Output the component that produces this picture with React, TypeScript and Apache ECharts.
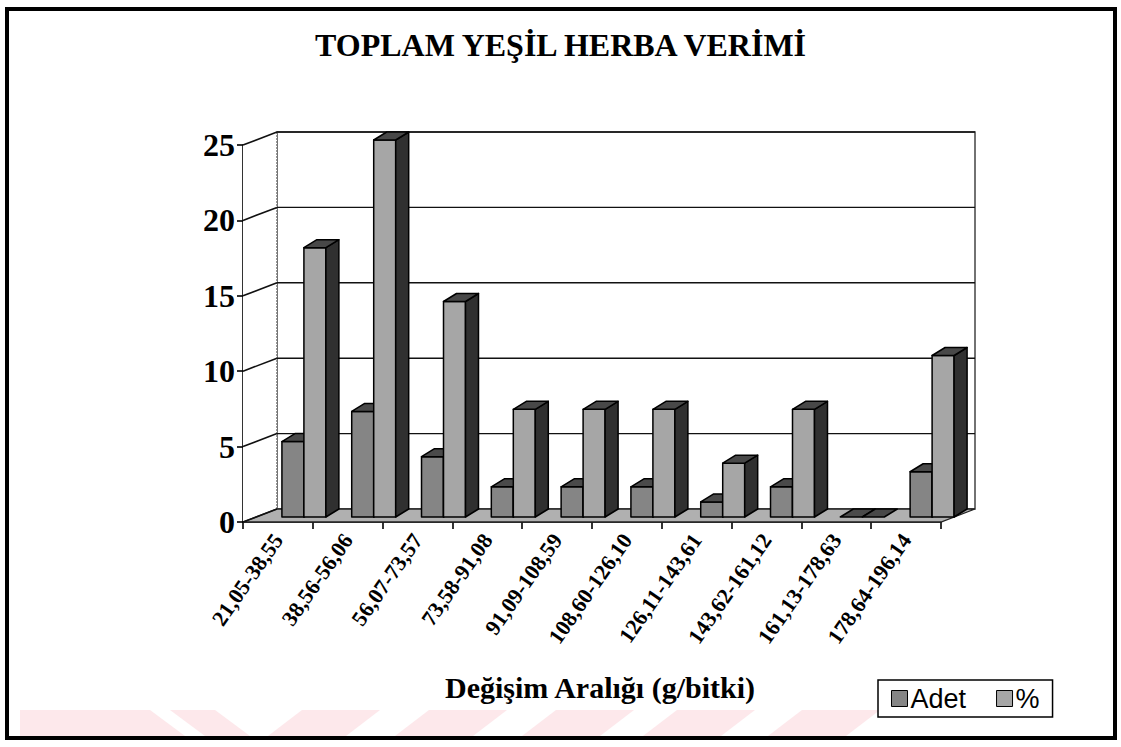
import React, { useEffect, useRef } from "react";
import * as echarts from "echarts";

const categories = [
  "21,05-38,55",
  "38,56-56,06",
  "56,07-73,57",
  "73,58-91,08",
  "91,09-108,59",
  "108,60-126,10",
  "126,11-143,61",
  "143,62-161,12",
  "161,13-178,63",
  "178,64-196,14",
];
const adet = [5, 7, 4, 2, 2, 2, 1, 2, 0, 3];
const yuzde = [17.86, 25, 14.29, 7.14, 7.14, 7.14, 3.57, 7.14, 0, 10.71];
const yTicks = [0, 5, 10, 15, 20, 25];
const seriesNames = ["Adet", "%"];

const SERIF = "'Liberation Serif', 'Times New Roman', serif";
const SANS = "'Liberation Sans', Arial, sans-serif";

// back-wall depth offset and bar geometry (pixels)
const BACK = [34, -13];
const BAR_SHIFT = [14, -5];
const DEPTH = [13, -8];

function makeBarRender(seriesIndex: number, front: string, side: string, topC: string) {
  return (params: any, api: any) => {
    const i = api.value(0);
    const v = api.value(1);
    const base = api.coord([i, 0]);
    const top = api.coord([i, v]);
    const bw = api.size([1, 0])[0];
    const w = bw * 0.315;
    const x0 = base[0] - bw * 0.143 + BAR_SHIFT[0] + seriesIndex * w;
    const yb = base[1] + BAR_SHIFT[1];
    const yt = top[1] + BAR_SHIFT[1];
    const stroke = { stroke: "#000", lineWidth: 1.5, lineJoin: "round" };
    const children: any[] = [];
    if (yb - yt > 0.5) {
      children.push({
        type: "rect",
        shape: { x: x0, y: yt, width: w, height: yb - yt },
        style: { fill: front, ...stroke },
      });
      children.push({
        type: "polygon",
        shape: {
          points: [
            [x0 + w, yt],
            [x0 + w + DEPTH[0], yt + DEPTH[1]],
            [x0 + w + DEPTH[0], yb + DEPTH[1]],
            [x0 + w, yb],
          ],
        },
        style: { fill: side, ...stroke },
      });
    }
    children.push({
      type: "polygon",
      shape: {
        points: [
          [x0, yt],
          [x0 + DEPTH[0], yt + DEPTH[1]],
          [x0 + w + DEPTH[0], yt + DEPTH[1]],
          [x0 + w, yt],
        ],
      },
      style: { fill: topC, ...stroke },
    });
    return { type: "group", children };
  };
}

function wallsRender(params: any, api: any) {
  const bw = api.size([1, 0])[0];
  const n = categories.length;
  const xl = api.coord([0, 0])[0] - bw / 2;
  const xr = api.coord([n - 1, 0])[0] + bw / 2;
  const y0 = api.coord([0, 0])[1];
  const yTop = api.coord([0, yTicks[yTicks.length - 1]])[1];
  const bx = BACK[0];
  const by = BACK[1];
  const children: any[] = [];
  // back wall
  children.push({
    type: "rect",
    shape: { x: xl + bx, y: yTop + by, width: xr - xl, height: y0 - yTop },
    style: { fill: "#fff", stroke: "#444", lineWidth: 1.5 },
  });
  // left wall
  children.push({
    type: "polygon",
    shape: {
      points: [
        [xl, yTop],
        [xl + bx, yTop + by],
        [xl + bx, y0 + by],
        [xl, y0],
      ],
    },
    style: { fill: "#fff", stroke: "none" },
  });
  // dotted left edge of back wall
  children.push({
    type: "line",
    shape: { x1: xl + bx, y1: yTop + by, x2: xl + bx, y2: y0 + by },
    style: { stroke: "#777", lineWidth: 1.5, lineDash: [2, 1] },
  });
  // floor
  children.push({
    type: "polygon",
    shape: {
      points: [
        [xl, y0],
        [xr, y0],
        [xr + bx, y0 + by],
        [xl + bx, y0 + by],
      ],
    },
    style: { fill: "#b0b0b0", stroke: "#222", lineWidth: 1.3 },
  });
  // gridlines
  yTicks.forEach((t) => {
    const y = api.coord([0, t])[1];
    if (t > 0) {
      children.push({
        type: "line",
        shape: { x1: xl + bx, y1: y + by, x2: xr + bx, y2: y + by },
        style: { stroke: "#111", lineWidth: 1.4 },
      });
    }
    children.push({
      type: "line",
      shape: { x1: xl, y1: y, x2: xl + bx, y2: y + by },
      style: { stroke: "#111", lineWidth: 1.6 },
    });
  });
  return { type: "group", children };
}

export default function App() {
  const ref = useRef<HTMLDivElement>(null);
  useEffect(() => {
    document.body.style.margin = "0";
    const chart = echarts.init(ref.current!, null, { renderer: "svg" });
    const barColors = [
      { front: "#858585", side: "#333333", top: "#4a4a4a" },
      { front: "#a6a6a6", side: "#303030", top: "#484848" },
    ];
    const data = [adet, yuzde];
    const stripes = [268, 395, 522, 643, 768].map((x) => ({
      type: "polygon",
      z: -10,
      shape: {
        points: [
          [x, 736],
          [x + 78, 736],
          [x + 112, 710],
          [x + 34, 710],
        ],
      },
      style: { fill: "#fde8eb" },
    }));
    chart.setOption({
      animation: false,
      backgroundColor: "#fff",
      title: {
        text: "TOPLAM YEŞİL HERBA VERİMİ",
        left: "center",
        top: 24,
        textStyle: { fontFamily: SERIF, fontWeight: "bold", fontSize: 32, color: "#000" },
      },
      legend: {
        data: seriesNames,
        left: 878,
        top: 680,
        icon: "rect",
        itemWidth: 16,
        itemHeight: 16,
        itemGap: 30,
        padding: [5, 13],
        borderColor: "#000",
        borderWidth: 1.5,
        backgroundColor: "#fff",
        itemStyle: { borderColor: "#000", borderWidth: 1 },
        textStyle: { fontFamily: SANS, fontSize: 27, color: "#000", padding: [0, 0, 0, -2] },
      },
      grid: { left: 243, right: 180, top: 145, bottom: 225 },
      xAxis: {
        type: "category",
        data: categories,
        name: "Değişim Aralığı (g/bitki)",
        nameLocation: "middle",
        nameGap: 150,
        nameTextStyle: {
          fontFamily: SERIF,
          fontWeight: "bold",
          fontSize: 30,
          color: "#000",
          padding: [0, 0, 0, 16],
        },
        axisLine: { lineStyle: { color: "#000", width: 1.6 } },
        axisTick: { show: true, length: 7, lineStyle: { color: "#000", width: 1.6 } },
        axisLabel: {
          rotate: 55,
          interval: 0,
          margin: 14,
          fontFamily: SERIF,
          fontWeight: "bold",
          fontSize: 22,
          color: "#000",
        },
        splitLine: { show: false },
      },
      yAxis: {
        type: "value",
        min: 0,
        max: 25,
        interval: 5,
        axisLine: { show: true, lineStyle: { color: "#000", width: 1.6 } },
        axisTick: { show: true, length: 6, lineStyle: { color: "#000", width: 1.6 } },
        axisLabel: {
          margin: 8,
          fontFamily: SERIF,
          fontWeight: "bold",
          fontSize: 32,
          color: "#000",
        },
        splitLine: { show: false },
      },
      graphic: [
        ...stripes,
        {
          type: "polygon",
          z: -10,
          shape: { points: [[20, 710], [150, 710], [185, 736], [20, 736]] },
          style: { fill: "#fde8eb" },
        },
        {
          type: "polygon",
          z: -10,
          shape: { points: [[170, 710], [215, 710], [250, 736], [205, 736]] },
          style: { fill: "#fde8eb" },
        },
        {
          type: "rect",
          z: 100,
          shape: { x: 7, y: 9, width: 1108, height: 729 },
          style: { fill: "none", stroke: "#000", lineWidth: 4 },
        },
      ],
      series: [
        {
          type: "custom",
          name: "walls",
          silent: true,
          z: 1,
          renderItem: wallsRender,
          data: [[0, 0]],
          encode: { x: 0, y: 1 },
          clip: false,
        },
        ...seriesNames.map((name, s) => ({
          type: "custom",
          name,
          z: 2 + s,
          itemStyle: { color: barColors[s].front },
          renderItem: makeBarRender(s, barColors[s].front, barColors[s].side, barColors[s].top),
          data: data[s].map((v, i) => [i, v]),
          encode: { x: 0, y: 1 },
          clip: false,
        })),
      ],
    });
    return () => chart.dispose();
  }, []);
  return <div ref={ref} style={{ width: 1121, height: 747 }} />;
}
